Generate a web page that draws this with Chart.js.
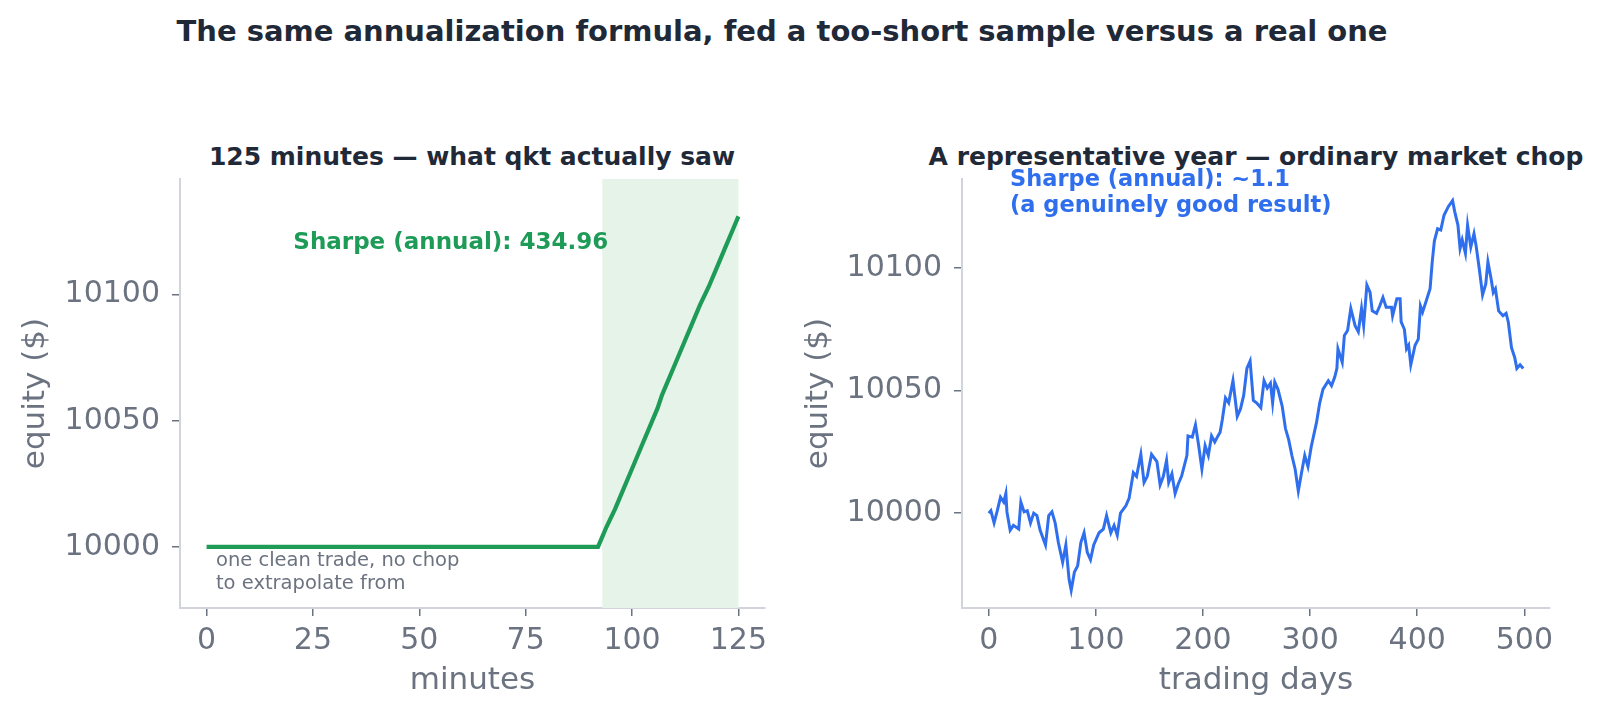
<!DOCTYPE html>
<html>
<head>
<meta charset="utf-8">
<script src="https://cdn.jsdelivr.net/npm/chart.js@4.4.1/dist/chart.umd.min.js"></script>
<style>
  html, body { margin: 0; padding: 0; background: #ffffff; }
  #figure { position: relative; width: 1600px; height: 721px; overflow: hidden; font-family: "DejaVu Sans", sans-serif; }
  #figure canvas { position: absolute; top: 0; }
  .title { position: absolute; transform: translate(-50%, -50%); white-space: nowrap; font-weight: bold; color: #1f2937; }
</style>
</head>
<body>
<div id="figure">
  <div class="title" id="supTitle" style="left:782px; top:31px; font-size:29px;">The same annualization formula, fed a too-short sample versus a real one</div>
  <div class="title" style="left:472px; top:156px; font-size:25px;">125 minutes — what qkt actually saw</div>
  <div class="title" style="left:1256px; top:156px; font-size:25px;">A representative year — ordinary market chop</div>
  <canvas id="minuteChart" width="800" height="721" style="left:0px"></canvas>
  <canvas id="dayChart" width="800" height="721" style="left:800px"></canvas>
</div>
<script>
// Left panel: the 125-minute sample (flat, then one clean trade)
const minuteX = [0, 92, 93, 94, 96, 98, 100, 102, 104, 106, 107, 108, 110, 112, 114, 116, 118, 120, 122, 124, 125];
const minuteEquity = [10000, 10000, 10004, 10008, 10015, 10023, 10031, 10039, 10047, 10055, 10060, 10064, 10072, 10080, 10088, 10096, 10103, 10111, 10119, 10127, 10131];
const tradeWindow = [93, 125];

// Right panel: a representative year of daily equity
const dayX = [0, 2, 5, 8, 11, 14, 16, 17, 20, 23, 28, 30, 33, 36, 39, 42, 45, 48, 53, 56, 59, 62, 65, 69, 72, 75, 77, 80, 83, 86, 89, 92, 95, 98,
  103, 107, 110, 114, 117, 120, 123, 128, 131, 135, 138, 142, 145, 148, 152, 157, 160, 163, 166, 168, 171, 174, 177, 180, 185, 186, 190, 193, 196, 199,
  202, 205, 208, 211, 214, 216, 218, 221, 224, 228, 232, 235, 238, 241, 244, 247, 250, 254, 257, 260, 263, 265, 267, 270, 274, 277, 280, 283, 286, 289,
  292, 295, 298, 301, 306, 309, 312, 317, 320, 323, 325, 326, 330, 332, 335, 338, 342, 345, 348, 350, 353, 356, 358, 362, 365, 368, 371, 376, 377, 381,
  384, 385, 388, 390, 392, 394, 398, 401, 403, 405, 408, 412, 414, 416, 419, 422, 425, 429, 433, 435, 438, 440, 442, 445, 447, 450, 453, 455, 458, 461,
  464, 466, 469, 471, 473, 476, 480, 483, 485, 488, 491, 493, 496, 499];
const dayEquity = [10000, 10001, 9996, 10001, 10006.5, 10004.5, 10008, 10000.5, 9993, 9995, 9993.5, 10004.5, 10000.5, 10001, 9996, 10000, 9999, 9993, 9987, 9999, 10000.5, 9996, 9988, 9980, 9987, 9973, 9968.5, 9976, 9978.5, 9988, 9992, 9984, 9981, 9987,
  9992, 9993.5, 9999, 9992, 9995, 9991, 10000, 10003, 10006, 10016.5, 10015, 10024, 10012.5, 10015, 10024, 10021, 10011.5, 10015, 10021.5, 10012.5, 10016, 10008, 10012, 10015, 10023.5, 10031.5, 10031, 10036, 10027.5, 10018,
  10027.5, 10023.5, 10031.5, 10029, 10031.5, 10033, 10038, 10047, 10045, 10054, 10039.5, 10042.5, 10048, 10059, 10062, 10046, 10045, 10043, 10054, 10051, 10053, 10045, 10053.5, 10050.5, 10043.5, 10034.5, 10030, 10023.5, 10018, 10009,
  10016.5, 10023.5, 10019, 10027, 10037, 10045, 10050.5, 10054, 10052, 10055.5, 10059, 10067, 10061.5, 10072.5, 10074.5, 10083.5, 10076.5, 10074, 10083.5, 10076.5, 10093, 10090, 10082.5, 10081.5, 10084.5, 10088, 10084, 10084, 10080.5, 10087.5,
  10087.5, 10078, 10075, 10067, 10068.5, 10060.5, 10068.5, 10071, 10084.5, 10082, 10086, 10091.5, 10102.5, 10111, 10116, 10115.5, 10121.5, 10125, 10127.5, 10123, 10117.5, 10108, 10111.5, 10106, 10117.5, 10108.5, 10114, 10109, 10099.5, 10089,
  10093.5, 10102.5, 10095.5, 10090, 10091.5, 10082.5, 10080.5, 10081.5, 10078, 10067.5, 10063.5, 10059, 10060.5, 10059];

// Axis ticks
const minuteTicks = [0, 25, 50, 75, 100, 125];
const dayTicks = [0, 100, 200, 300, 400, 500];
const equityTicks = [10000, 10050, 10100];

const FONT = "DejaVu Sans";
const TEXT_GRAY = "#6b7280";
const SPINE_GRAY = "#d1d5db";
const GREEN = "#1e9b57";
const BLUE = "#2f6fed";

// Builds the x/y scale options shared by both panels
function buildScales(xRange, yRange, xTicks, xLabel, yWidth, yTitlePad) {
  return {
    x: {
      type: "linear",
      min: xRange[0],
      max: xRange[1],
      afterBuildTicks: (scale) => { scale.ticks = xTicks.map((v) => ({ value: v })); },
      afterFit: (scale) => { scale.height = 113; },
      grid: { display: true, drawOnChartArea: false, drawTicks: true, tickLength: 8, color: TEXT_GRAY, lineWidth: 1.5 },
      border: { display: true, color: SPINE_GRAY, width: 2 },
      ticks: { autoSkip: false, maxRotation: 0, padding: 7, color: TEXT_GRAY, font: { family: FONT, size: 30 }, callback: (v) => String(v) },
      title: { display: true, text: xLabel, color: TEXT_GRAY, font: { family: FONT, size: 31 }, padding: { top: 0, bottom: 21 } }
    },
    y: {
      type: "linear",
      min: yRange[0],
      max: yRange[1],
      afterBuildTicks: (scale) => { scale.ticks = equityTicks.map((v) => ({ value: v })); },
      afterFit: (scale) => { scale.width = yWidth; },
      grid: { display: true, drawOnChartArea: false, drawTicks: true, tickLength: 8, color: TEXT_GRAY, lineWidth: 1.5 },
      border: { display: true, color: SPINE_GRAY, width: 2 },
      ticks: { autoSkip: false, padding: 12, color: TEXT_GRAY, font: { family: FONT, size: 30 }, callback: (v) => String(v) },
      title: { display: true, text: "equity ($)", color: TEXT_GRAY, font: { family: FONT, size: 31 }, padding: { top: yTitlePad, bottom: 0 } }
    }
  };
}

// Shaded band behind the line (the window where the trade happened)
const bandPlugin = {
  id: "band",
  beforeDatasetsDraw(chart, args, opts) {
    if (!opts.range) return;
    const { ctx, chartArea, scales } = chart;
    const x0 = scales.x.getPixelForValue(opts.range[0]);
    const x1 = scales.x.getPixelForValue(opts.range[1]);
    ctx.save();
    ctx.fillStyle = opts.color;
    ctx.fillRect(x0, chartArea.top, x1 - x0, chartArea.bottom - chartArea.top);
    ctx.restore();
  }
};

// Text annotations placed in data coordinates
const notePlugin = {
  id: "notes",
  afterDraw(chart, args, opts) {
    const { ctx, scales } = chart;
    (opts.items || []).forEach((n) => {
      ctx.save();
      ctx.font = `${n.bold ? "bold " : ""}${n.size}px "${FONT}"`;
      ctx.fillStyle = n.color;
      ctx.textAlign = n.align;
      ctx.textBaseline = "middle";
      const x = scales.x.getPixelForValue(n.x);
      n.lines.forEach((line, i) => {
        ctx.fillText(line, x, scales.y.getPixelForValue(n.y[i]));
      });
      ctx.restore();
    });
  }
};

document.addEventListener("DOMContentLoaded", () => {
  const baseOptions = (scales, padRight, plugins) => ({
    responsive: false,
    animation: false,
    layout: { padding: { top: 179, right: padRight, bottom: 0, left: 0 } },
    scales: scales,
    plugins: Object.assign({ legend: { display: false }, tooltip: { enabled: false }, title: { display: false } }, plugins)
  });

  new Chart(document.getElementById("minuteChart"), {
    type: "line",
    data: {
      datasets: [{
        data: minuteX.map((x, i) => ({ x: x, y: minuteEquity[i] })),
        borderColor: GREEN,
        borderWidth: 4.2,
        pointRadius: 0,
        tension: 0,
        fill: false
      }]
    },
    options: baseOptions(
      buildScales([-6.25, 131.25], [9975.8, 10145.8], minuteTicks, "minutes", 180, 17),
      35,
      {
        band: { range: tradeWindow, color: "#e5f3e9" },
        notes: {
          items: [
            { lines: ["Sharpe (annual): 434.96"], x: 57.4, y: [10120.6], size: 23, bold: true, color: GREEN, align: "center" },
            { lines: ["one clean trade, no chop", "to extrapolate from"], x: 2.2, y: [9994.4, 9985.3], size: 19.5, bold: false, color: TEXT_GRAY, align: "left" }
          ]
        }
      }
    ),
    plugins: [bandPlugin, notePlugin]
  });

  new Chart(document.getElementById("dayChart"), {
    type: "line",
    data: {
      datasets: [{
        data: dayX.map((x, i) => ({ x: x, y: dayEquity[i] })),
        borderColor: BLUE,
        borderWidth: 3,
        pointRadius: 0,
        tension: 0,
        fill: false
      }]
    },
    options: baseOptions(
      buildScales([-24.95, 523.95], [9961.3, 10136.3], dayTicks, "trading days", 162, 0),
      50,
      {
        notes: {
          items: [
            { lines: ["Sharpe (annual): ~1.1", "(a genuinely good result)"], x: 19.9, y: [10135.9, 10125.3], size: 22.5, bold: true, color: BLUE, align: "left" }
          ]
        }
      }
    ),
    plugins: [notePlugin]
  });
});
</script>
</body>
</html>
